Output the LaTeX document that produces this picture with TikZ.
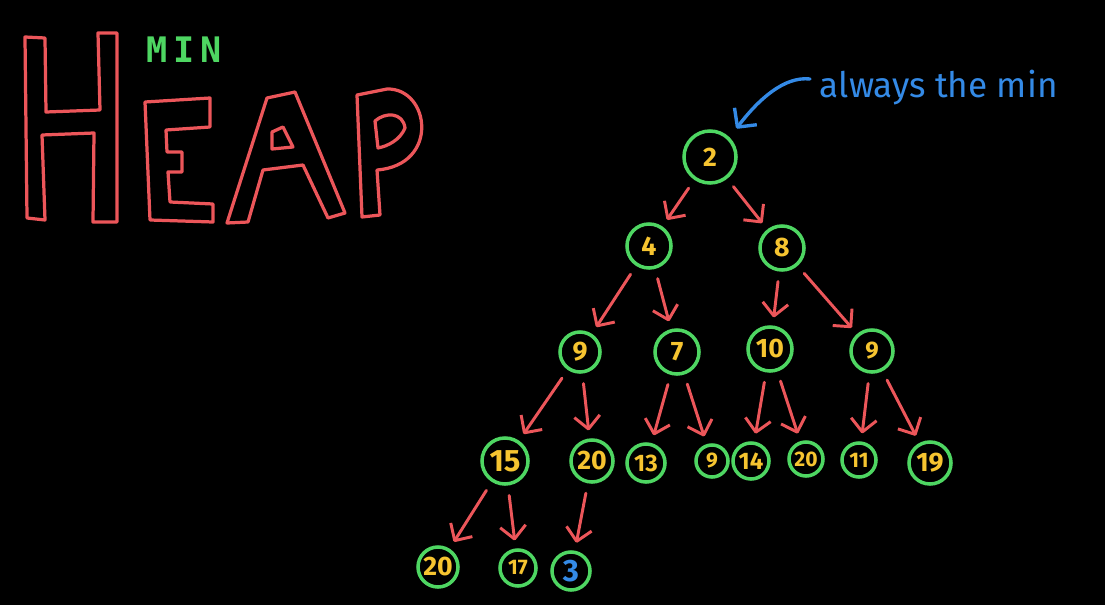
\documentclass[tikz,border=0pt]{standalone}
\usepackage{fontspec}
\setmainfont{Fira Sans}
\newfontfamily\minfont[LetterSpace=16]{DejaVu Sans Mono Bold}
\usetikzlibrary{arrows.meta}
\definecolor{heapred}{RGB}{236,86,90}
\definecolor{heapgreen}{RGB}{78,214,98}
\definecolor{heapyellow}{RGB}{246,196,48}
\definecolor{heapblue}{RGB}{52,138,230}
\begin{document}
\begin{tikzpicture}[x=0.025cm, y=-0.025cm,
  letter/.style={draw=heapred, line width=2.3pt, line join=round},
  hn/.style={circle, draw=heapgreen, line width=2.5pt, text=heapyellow, inner sep=0pt},
  huge/.style={font=\bfseries\fontsize{22}{22}\selectfont},
  big/.style={font=\bfseries\fontsize{19}{19}\selectfont},
  mid/.style={font=\bfseries\fontsize{17}{17}\selectfont},
  small/.style={font=\bfseries\fontsize{15}{15}\selectfont},
  link/.style={draw=heapred, line width=2.1pt, line cap=round, -{Straight Barb[length=3.2mm,width=6.4mm,line join=round]}, shorten <=0.25cm, shorten >=0.2cm},
  pointer/.style={draw=heapblue, line width=2.4pt, line cap=round, -{Straight Barb[length=3.4mm,width=7mm,line join=round]}, shorten >=0.28cm}]
\fill[black] (0,0) rectangle (1105,605);
% title
\draw[letter] (25,37) -- (45,38) -- (46,112) -- (100,110) -- (98,33) -- (117,33) -- (117,222) -- (93,222) -- (94,133) -- (42,135) -- (45,220) -- (27,218) -- cycle;
\draw[letter] (145,102) -- (210,98) -- (210,127) -- (166,130) -- (167,152) -- (182,152) -- (182,172) -- (168,172) -- (170,202) -- (213,204) -- (213,222) -- (150,220) -- cycle;
\draw[letter] (227,223) -- (267,98) -- (295,92) -- (345,213) -- (328,218) -- (303,165) -- (263,170) -- (248,222) -- cycle;
\draw[letter] (272,132) -- (283,127) -- (293,147) -- (272,149) -- cycle;
\draw[letter] (362,217) -- (357,95) -- (387,89) .. controls (430,88) and (440,165) .. (377,170) -- (380,215) -- cycle;
\draw[letter] (375,121) .. controls (385,112) and (403,112) .. (405,128) .. controls (400,140) and (388,146) .. (378,148) -- cycle;
\node[anchor=west, text=heapgreen, font=\minfont\fontsize{25}{25}\selectfont] (min) at (142,50) {MIN};
% tree
\node[hn, big, minimum size=1.3cm] (root) at (710,157) {2};
\node[hn, big, minimum size=1.1cm] (l) at (649,246) {4};
\node[hn, big, minimum size=1.1cm] (r) at (782,248) {8};
\node[hn, big, minimum size=1.0cm] (ll) at (580,352) {9};
\node[hn, big, minimum size=1.1cm] (lr) at (677,352) {7};
\node[hn, big, minimum size=1.1cm] (rl) at (770,349) {10};
\node[hn, mid, minimum size=1.05cm] (rr) at (872,351) {9};
\node[hn, huge, minimum size=1.15cm] (lll) at (505,461) {15};
\node[hn, big, minimum size=1.05cm] (llr) at (592,461) {20};
\node[hn, mid, minimum size=0.95cm] (lrl) at (646,463) {13};
\node[hn, small, minimum size=0.8cm] (lrr) at (712,461) {9};
\node[hn, mid, minimum size=0.9cm] (rll) at (751,461) {14};
\node[hn, small, minimum size=0.85cm] (rlr) at (806,459) {20};
\node[hn, small, minimum size=0.85cm] (rrl) at (859,460) {11};
\node[hn, big, minimum size=1.05cm] (rrr) at (930,463) {19};
\node[hn, big, minimum size=1.0cm] (llll) at (438,567) {20};
\node[hn, small, minimum size=0.9cm] (lllr) at (518,568) {17};
\node[hn, huge, minimum size=0.95cm, text=heapblue] (llrl) at (571,571) {3};
\draw[link] (root) -- (l);
\draw[link] (root) -- (r);
\draw[link] (l) -- (ll);
\draw[link] (l) -- (lr);
\draw[link] (r) -- (rl);
\draw[link] (r) -- (rr);
\draw[link] (ll) -- (lll);
\draw[link] (ll) -- (llr);
\draw[link] (lr) -- (lrl);
\draw[link] (lr) -- (lrr);
\draw[link] (rl) -- (rll);
\draw[link] (rl) -- (rlr);
\draw[link] (rr) -- (rrl);
\draw[link] (rr) -- (rrr);
\draw[link] (lll) -- (llll);
\draw[link] (lll) -- (lllr);
\draw[link] (llr) -- (llrl);
% note
\node[anchor=base west, text=heapblue, font=\fontsize{25}{25}\selectfont] (note) at (815,97) {always the min};
\coordinate (tail) at (810,79);
\draw[pointer] (tail) .. controls (784,76) and (758,100) .. (root.north east);
\end{tikzpicture}
\end{document}
